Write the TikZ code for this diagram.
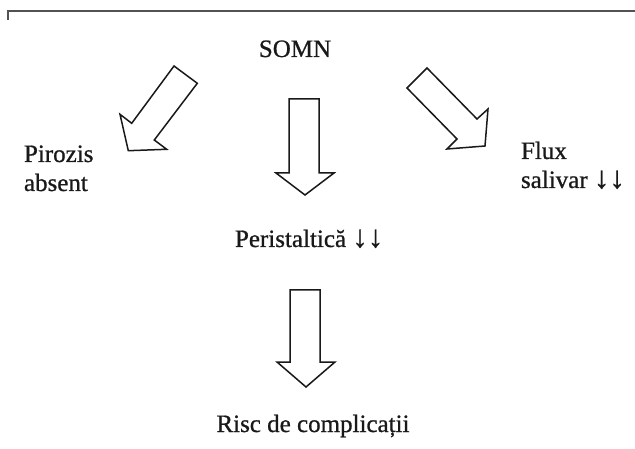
\documentclass[tikz,border=0pt]{standalone}
\usepackage{fontspec}
\setmainfont{Liberation Serif}[FakeBold=0.8]
\newcommand{\dnarrows}{{\fontsize{31}{29}\selectfont ↓↓}}
\begin{document}
\begin{tikzpicture}[x=1pt,y=-1pt,
  lbl/.style={inner sep=0pt,outer sep=0pt,text=black!90,font=\fontsize{25}{29}\selectfont},
  blockarrow/.style={draw=black!90,line width=1.5pt,line join=miter,fill=white},
  frameline/.style={draw=black!68,line width=2pt}]
\useasboundingbox (0,0) rectangle (635,449);
% frame line at top
\draw[frameline] (8,20) -- (8,11) -- (635,11);
% texts
\node[lbl,anchor=base] (somn) at (295,57) {SOMN};
\node[lbl,anchor=base west,align=left] (piro) at (24,191) {Pirozis\\absent};
\node[lbl,anchor=base west,align=left] (flux) at (521,188) {Flux\\salivar \dnarrows};
\node[lbl,anchor=base west] (peri) at (235,247) {Peristaltică \dnarrows};
\node[lbl,anchor=base] (risc) at (313,432) {Risc de complicații};
% left block arrow
\draw[blockarrow] (174,66) -- (197.3,83.3) -- (154.3,140) -- (166.7,149.3) -- (128.3,150.7)
  -- (120,114.3) -- (131.7,123.3) -- cycle;
% right block arrow
\draw[blockarrow] (427,68) -- (477,119) -- (488,109) -- (485,146) -- (447,149)
  -- (457,139) -- (407,88) -- cycle;
% middle block arrow
\draw[blockarrow] (289,99) -- (319,99) -- (319,173) -- (334,173) -- (305,195)
  -- (276,173) -- (289,173) -- cycle;
% lower block arrow
\draw[blockarrow] (290,290) -- (320,290) -- (320,362) -- (335,362) -- (306,387)
  -- (277,362) -- (290,362) -- cycle;
\end{tikzpicture}
\end{document}
